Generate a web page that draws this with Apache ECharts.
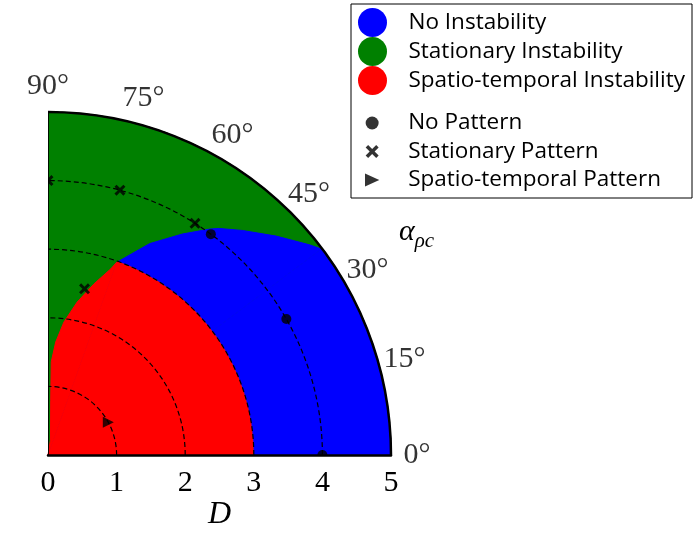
<!DOCTYPE html>
<html>
<head>
<meta charset="utf-8">
<script src="https://cdn.jsdelivr.net/npm/echarts@6/dist/echarts.min.js"></script>
<style>
html, body { margin: 0; padding: 0; background: #fff; }
#main { width: 697px; height: 541px; }
</style>
</head>
<body>
<div id="main"></div>
<script>
// ticks
var angleTicks = [0, 15, 30, 45, 60, 75, 90];
var radiusTicks = [0, 1, 2, 3, 4, 5];

// regions: [radius, end angle] of the arc part, then the boundary
var greenArc = [5, 90];
var blueArc = [5, 37.0];
var blueEdgeAngle = [37.0, 38.8, 43.8, 49.1, 52.9, 54.4, 58.7, 64.3, 70.4];
var blueEdgeRadius = [4.99, 4.89, 4.61, 4.33, 4.14, 4.05, 3.77, 3.42, 2.98];
var redArc = [3, 70.4];
var redEdgeAngle = [70.4, 71.4, 75.0, 79.2, 83.2, 86.1, 88.0, 87.2, 80.6];
var redEdgeRadius = [2.98, 2.86, 2.58, 2.27, 1.95, 1.65, 1.36, 0.80, 0.22];

// simulated patterns
var noPatternRadius = [4, 4, 4];
var noPatternAngle = [0, 29.7, 53.6];
var statPatternRadius = [4, 4, 4, 2.48];
var statPatternAngle = [57.6, 74.8, 90, 77.6];
var stPatternRadius = [1.0];
var stPatternAngle = [28.5];

var serif = 'Liberation Serif';
var sans = 'Open Sans';
var crossPath = 'path://M1.9,0L5,3.1L8.1,0L10,1.9L6.9,5L10,8.1L8.1,10L5,6.9L1.9,10L0,8.1L3.1,5L0,1.9Z';
var halfCross = 'path://M5,3.1L8.1,0L10,1.9L6.9,5L10,8.1L8.1,10L5,6.9Z';
var triPath = 'path://M0,0L11,5L0,10Z';
var halfDisk = 'path://M0,10A10,10,0,0,1,20,10Z';

var chart = echarts.init(document.getElementById('main'));

function region(name, color, arc, edgeAngle, edgeRadius) {
  var pts = edgeAngle.map(function (a, i) { return [edgeRadius[i], a]; });
  return {
    name: name,
    type: 'custom',
    coordinateSystem: 'polar',
    silent: true,
    z: 1,
    itemStyle: { color: color },
    data: pts.length ? pts : [arc],
    renderItem: function (params, api) {
      if (params.dataIndex !== 0) return null;
      var o = api.coord([0, 0]);
      var a0 = api.coord([arc[0], 0]);
      var a1 = api.coord([arc[0], arc[1]]);
      var children = [{
        type: 'sector',
        shape: { cx: o[0], cy: o[1], r0: 0, r: a1[2], startAngle: -a1[3], endAngle: -a0[3], clockwise: true },
        style: { fill: color }
      }];
      if (pts.length) {
        var poly = [[o[0], o[1]]];
        pts.forEach(function (p) {
          var c = api.coord(p);
          poly.push([c[0], c[1]]);
        });
        // thin stroke of the same colour hides the seam with the sector
        children.push({ type: 'polygon', shape: { points: poly }, style: { fill: color, stroke: color, lineWidth: 1 } });
      }
      return { type: 'group', children: children };
    }
  };
}

function markers(name, symbol, size, radius, angle) {
  return {
    name: name,
    type: 'scatter',
    coordinateSystem: 'polar',
    symbol: symbol,
    symbolSize: size,
    clip: false,
    z: 6,
    itemStyle: { color: '#000' },
    data: radius.map(function (r, i) {
      var a = angle[i];
      if (a === 0 && symbol === 'circle') {
        return { value: [r, a], symbol: halfDisk, symbolSize: [size, size / 2], symbolOffset: [0, -size / 4] };
      }
      if (a === 90 && symbol === crossPath) {
        return { value: [r, a], symbol: halfCross, symbolSize: [size / 2, size], symbolOffset: [size / 4, 0] };
      }
      return [r, a];
    })
  };
}

chart.setOption({
  animation: false,
  polar: { center: [48, 455], radius: 343 },
  angleAxis: {
    type: 'value',
    min: 0,
    max: 90,
    interval: 15,
    startAngle: 0,
    endAngle: 90,
    clockwise: false,
    z: 4,
    axisLine: { lineStyle: { color: '#000', width: 2.5 } },
    axisTick: { show: false },
    axisLabel: { show: false },
    splitLine: { show: false }
  },
  radiusAxis: {
    type: 'value',
    min: 0,
    max: 5,
    interval: 1,
    z: 4,
    name: 'D',
    nameLocation: 'middle',
    nameGap: 43,
    nameTextStyle: { fontFamily: serif, fontStyle: 'italic', fontSize: 32, color: '#000' },
    axisLine: { lineStyle: { color: '#000', width: 2.5 } },
    axisTick: { show: false },
    // labels sit on the other side of the axis line, hence the negative margin
    axisLabel: { margin: -43, fontFamily: serif, fontSize: 30, color: '#000' },
    splitLine: { lineStyle: { color: '#000', width: 1.2, type: [5, 3] } }
  },
  legend: [{
    orient: 'vertical',
    left: 358,
    top: 8,
    padding: 0,
    itemWidth: 62,
    itemHeight: 29,
    itemGap: 0,
    icon: 'circle',
    selectedMode: false,
    textStyle: { fontFamily: sans, fontSize: 22.5, color: '#000', lineHeight: 24 },
    data: ['No Instability', 'Stationary Instability', 'Spatio-temporal Instability']
  }, {
    orient: 'vertical',
    left: 365,
    top: 111,
    padding: 0,
    itemWidth: 62,
    itemHeight: 13,
    itemGap: 4.5,
    selectedMode: false,
    textStyle: { fontFamily: sans, fontSize: 22.5, color: '#000', lineHeight: 24 },
    data: ['No Pattern', 'Stationary Pattern', 'Spatio-temporal Pattern']
  }],
  graphic: [{
    type: 'rect',
    z: 0,
    shape: { x: 351, y: 4, width: 341, height: 194 },
    style: { fill: '#fff', stroke: '#000', lineWidth: 1 }
  }, {
    type: 'text',
    left: 399,
    top: 217,
    style: {
      text: '{a|α}{b|ρc}',
      rich: {
        a: { fontFamily: serif, fontStyle: 'italic', fontSize: 30, verticalAlign: 'top', lineHeight: 32 },
        b: { fontFamily: serif, fontStyle: 'italic', fontSize: 21, verticalAlign: 'top', padding: [14, 0, 0, 0] }
      }
    }
  }],
  series: [
    region('Stationary Instability', '#008000', greenArc, [], []),
    region('No Instability', '#0000ff', blueArc, blueEdgeAngle, blueEdgeRadius),
    region('Spatio-temporal Instability', '#ff0000', redArc, redEdgeAngle, redEdgeRadius),
    {
      type: 'line',
      coordinateSystem: 'polar',
      silent: true,
      symbol: 'none',
      z: 5,
      lineStyle: { color: '#000', width: 1.8 },
      data: [[radiusTicks[0], angleTicks[angleTicks.length - 1]], [radiusTicks[radiusTicks.length - 1], angleTicks[angleTicks.length - 1]]]
    },
    {
      // angle tick labels, centred just outside the arc
      type: 'scatter',
      coordinateSystem: 'polar',
      silent: true,
      clip: false,
      symbolSize: 0,
      label: {
        show: true,
        position: 'inside',
        fontFamily: serif,
        fontSize: 30,
        color: '#000',
        formatter: function (p) { return p.value[1] + '°'; }
      },
      data: angleTicks.map(function (a) { return [5.38, a]; })
    },
    markers('No Pattern', 'circle', 10, noPatternRadius, noPatternAngle),
    markers('Stationary Pattern', crossPath, 11, statPatternRadius, statPatternAngle),
    markers('Spatio-temporal Pattern', triPath, 11, stPatternRadius, stPatternAngle)
  ]
});
</script>
</body>
</html>
